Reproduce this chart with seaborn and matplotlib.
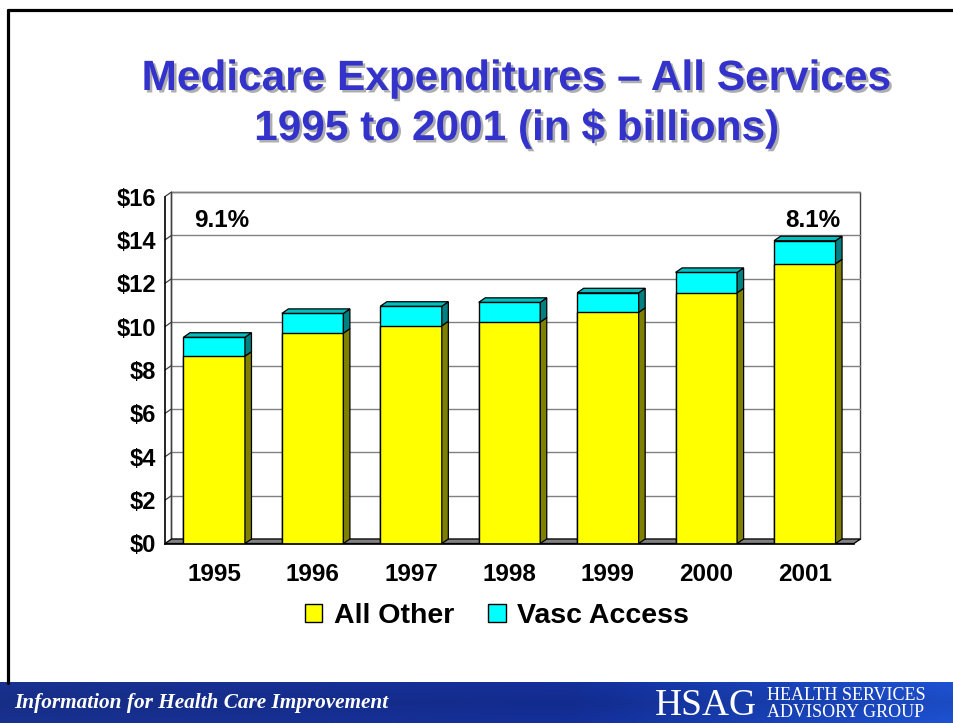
import numpy as np
import pandas as pd
import matplotlib
matplotlib.use("Agg")
import matplotlib.pyplot as plt
import matplotlib.patheffects as pe
from matplotlib.patches import Polygon, Rectangle, Patch
from matplotlib.lines import Line2D
import seaborn as sns

# ---- data ----
years = ["1995", "1996", "1997", "1998", "1999", "2000", "2001"]
all_other = [8.64, 9.70, 10.04, 10.21, 10.66, 11.56, 12.90]
vasc_access = [0.87, 0.91, 0.90, 0.91, 0.90, 0.94, 1.06]
pct_labels = {"1995": "9.1%", "2001": "8.1%"}
y_ticks = [0, 2, 4, 6, 8, 10, 12, 14, 16]
y_ticklabels = ["$0", "$2", "$4", "$6", "$8", "$10", "$12", "$14", "$16"]
title_lines = ["Medicare Expenditures \u2013 All Services", "1995 to 2001 (in $ billions)"]

df = pd.DataFrame({"year": years, "all_other": all_other, "vasc": vasc_access})
df["total"] = df["all_other"] + df["vasc"]

sns.set_theme(style="white")
plt.rcParams["font.family"] = ["Liberation Sans", "DejaVu Sans"]
plt.rcParams["text.color"] = "black"
plt.rcParams["xtick.color"] = "black"
plt.rcParams["ytick.color"] = "black"
plt.rcParams["xtick.labelcolor"] = "black"
plt.rcParams["ytick.labelcolor"] = "black"

W, H = 954, 723
fig = plt.figure(figsize=(W / 100, H / 100), dpi=100)
fig.patch.set_facecolor("white")

# axes (front plane)
x0, x1, yb, yt = 165, 854, 543.5, 196.5
ax = fig.add_axes([x0 / W, (H - yb) / H, (x1 - x0) / W, (yb - yt) / H])
ax.set_facecolor("none")

BW = 0.625
YELLOW, OLIVE = "#FFFF00", "#808000"
CYAN, TEAL, CYAN_TOP = "#00FFFF", "#008080", "#00BFBF"

sns.barplot(data=df, x="year", y="total", order=years, color=CYAN, saturation=1,
            width=BW, edgecolor="black", linewidth=1.0, ax=ax, zorder=3)
sns.barplot(data=df, x="year", y="all_other", order=years, color=YELLOW, saturation=1,
            width=BW, edgecolor="black", linewidth=1.0, ax=ax, zorder=3)

ax.set_xlim(-0.5, 6.5)
ax.set_ylim(0, 16)

# 3D depth offsets in data units
px_x = (x1 - x0) / 7.0
px_y = (yb - yt) / 16.0
dx = 6.5 / px_x
dy = 4.5 / px_y

# back wall
ax.add_patch(Rectangle((-0.5 + dx, dy), 7, 16, facecolor="white", edgecolor="#404040",
                       linewidth=1.0, clip_on=False, zorder=0.2))
for v in y_ticks[1:]:
    ax.plot([-0.5 + dx, 6.5 + dx], [v + dy, v + dy], color="#808080", lw=1.0,
            clip_on=False, zorder=0.5)
    ax.plot([-0.5, -0.5 + dx], [v, v + dy], color="#404040", lw=0.9,
            clip_on=False, zorder=0.5)
ax.plot([-0.5 + dx, -0.5 + dx], [dy, 16 + dy], color="#404040", lw=1.0, clip_on=False, zorder=0.6)
# floor
ax.add_patch(Polygon([(-0.5, 0), (6.5, 0), (6.5 + dx, dy), (-0.5 + dx, dy)],
                     closed=True, facecolor="#808080", edgecolor="black", lw=0.9,
                     clip_on=False, zorder=1))

# 3D side and top faces of bars
for i, (a, t) in enumerate(zip(df["all_other"], df["total"])):
    r = i + BW / 2
    l = i - BW / 2
    ax.add_patch(Polygon([(r, 0), (r + dx, dy), (r + dx, a + dy), (r, a)], closed=True,
                         facecolor=OLIVE, edgecolor="black", lw=0.9, clip_on=False, zorder=4))
    ax.add_patch(Polygon([(r, a), (r + dx, a + dy), (r + dx, t + dy), (r, t)], closed=True,
                         facecolor=TEAL, edgecolor="black", lw=0.9, clip_on=False, zorder=4))
    ax.add_patch(Polygon([(l, t), (r, t), (r + dx, t + dy), (l + dx, t + dy)], closed=True,
                         facecolor=CYAN_TOP, edgecolor="black", lw=0.9, clip_on=False, zorder=4))

# percentage labels
for i, yr in enumerate(years):
    if yr in pct_labels:
        ax.text(i + 0.08, 14.9, pct_labels[yr], ha="center", va="center",
                fontsize=17.5, fontweight="bold", color="black", zorder=5)

# spines / ticks
for s in ["top", "right"]:
    ax.spines[s].set_visible(False)
for s in ["left", "bottom"]:
    ax.spines[s].set_color("black")
    ax.spines[s].set_linewidth(1.2)
    ax.spines[s].set_zorder(6)

ax.set_yticks(y_ticks)
ax.set_yticklabels(y_ticklabels, fontsize=17, fontweight="bold", color="black")
ax.tick_params(axis="y", direction="out", length=4.5, width=1.0, color="black", pad=2)
ax.set_xticks(range(len(years)))
ax.set_xticklabels(years, fontsize=17.5, fontweight="bold", color="black")
ax.tick_params(axis="x", which="major", length=0, pad=14)
ax.set_xticks(np.arange(-0.5, 7, 1.0), minor=True)
ax.tick_params(axis="x", which="minor", direction="out", length=4, width=1.0, color="black")
ax.set_xlabel("")
ax.set_ylabel("")
ax.grid(False)

# legend
handles = [Patch(facecolor=YELLOW, edgecolor="black", linewidth=1.0, label="All Other"),
           Patch(facecolor=CYAN, edgecolor="black", linewidth=1.0, label="Vasc Access")]
leg = fig.legend(handles=handles, loc="center", bbox_to_anchor=(497 / W, 1 - 616 / H),
                 ncol=2, frameon=False, handlelength=0.62, handleheight=0.62,
                 handletextpad=0.4, columnspacing=1.2,
                 prop={"family": ["Liberation Sans"], "weight": "bold", "size": 20.5})
for txt in leg.get_texts():
    txt.set_color("black")

# title with shadow
shadow = [pe.SimplePatchShadow(offset=(1.8, -1.8), shadow_rgbFace="#9a9a9a", alpha=0.8), pe.Normal()]
fig.text(517 / W, 1 - 90 / H, title_lines[0], ha="center", va="baseline", fontsize=30.5,
         fontweight="bold", color="#3333CC", path_effects=shadow)
fig.text(517 / W, 1 - 140 / H, title_lines[1], ha="center", va="baseline", fontsize=30.5,
         fontweight="bold", color="#3333CC", path_effects=shadow)

# slide frame
fig.add_artist(Line2D([8.5 / W, 1.0], [1 - 9.5 / H, 1 - 9.5 / H], color="black", lw=2.3,
                      transform=fig.transFigure))
fig.add_artist(Line2D([8.5 / W, 8.5 / W], [1 - 9.5 / H, 40 / H], color="black", lw=2.3,
                      transform=fig.transFigure))

# footer band
fax = fig.add_axes([0, 0, 1, 41 / H])
fax.set_axis_off()
gx = np.linspace(0, 1, 400)
gy = np.linspace(0, 1, 40)
GX, GY = np.meshgrid(gx, gy)
c_left = np.array([0.10, 0.20, 0.58])
c_mid = np.array([0.08, 0.19, 0.62])
c_right = np.array([0.12, 0.33, 0.85])
t = GX[..., None]
img = np.where(t < 0.6, c_left + (c_mid - c_left) * (t / 0.6),
               c_mid + (c_right - c_mid) * ((t - 0.6) / 0.4))
img = img * (0.9 + 0.15 * np.abs(GY[..., None] - 0.5))
img = np.clip(img, 0, 1)
fax.imshow(img, aspect="auto", extent=[0, 1, 0, 1], origin="lower")
fax.set_xlim(0, 1)
fax.set_ylim(0, 1)
fax.text(14 / W, 0.36, "Information for Health Care Improvement", color="white",
         fontsize=15.3, style="italic", fontweight="bold", family=["Liberation Serif"],
         ha="left", va="baseline", clip_on=False)
fax.text(655 / W, 0.2, "HSAG", color="white", fontsize=27, family=["Liberation Serif"],
         ha="left", va="baseline", clip_on=False)
fax.text(767 / W, 0.55, "HEALTH SERVICES", color="white", fontsize=13,
         family=["Liberation Serif"], ha="left", va="baseline", clip_on=False)
fax.text(767 / W, 0.15, "ADVISORY GROUP", color="white", fontsize=13,
         family=["Liberation Serif"], ha="left", va="baseline", clip_on=False)

fig.savefig("out.png", dpi=100, facecolor="white")
